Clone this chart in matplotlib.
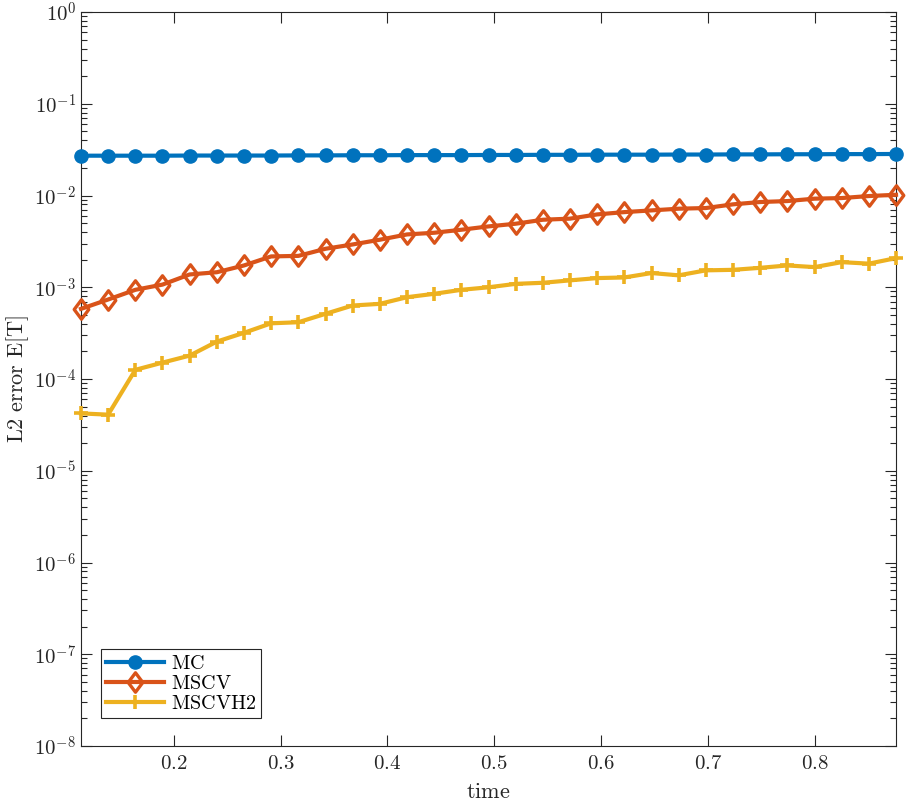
import numpy as np
import matplotlib
matplotlib.use("Agg")
import matplotlib.pyplot as plt
from matplotlib.path import Path
from matplotlib.ticker import LogLocator, FixedLocator, FuncFormatter, NullFormatter

plt.rcParams['mathtext.fontset'] = 'cm'
plt.rcParams['font.family'] = ['DejaVu Serif']

time = [0.1131, 0.1385, 0.1640, 0.1894, 0.2148, 0.2403, 0.2657, 0.2911, 0.3166, 0.3420,
        0.3674, 0.3929, 0.4183, 0.4437, 0.4692, 0.4946, 0.5200, 0.5455, 0.5709, 0.5963,
        0.6218, 0.6472, 0.6726, 0.6981, 0.7235, 0.7489, 0.7744, 0.7998, 0.8252, 0.8507,
        0.8761]

mc = [0.0272, 0.0272, 0.0272, 0.0272, 0.0273, 0.0273, 0.0273, 0.0273, 0.0274, 0.0274,
      0.0275, 0.0275, 0.0276, 0.0276, 0.0276, 0.0277, 0.0277, 0.0278, 0.0278, 0.0279,
      0.0279, 0.0279, 0.0280, 0.0280, 0.0281, 0.0281, 0.0282, 0.0282, 0.0283, 0.0283,
      0.0284]

mscv = [5.82e-4, 7.36e-4, 9.39e-4, 1.07e-3, 1.38e-3, 1.46e-3, 1.73e-3, 2.17e-3, 2.20e-3, 2.63e-3,
        2.93e-3, 3.30e-3, 3.77e-3, 3.93e-3, 4.24e-3, 4.61e-3, 4.93e-3, 5.45e-3, 5.60e-3, 6.23e-3,
        6.60e-3, 6.89e-3, 7.19e-3, 7.31e-3, 8.02e-3, 8.50e-3, 8.71e-3, 9.25e-3, 9.39e-3, 9.88e-3,
        1.02e-2]

mscvh2 = [4.22e-5, 4.09e-5, 1.26e-4, 1.51e-4, 1.80e-4, 2.56e-4, 3.19e-4, 4.05e-4, 4.16e-4, 5.14e-4,
          6.33e-4, 6.60e-4, 7.80e-4, 8.49e-4, 9.39e-4, 1.00e-3, 1.09e-3, 1.12e-3, 1.19e-3, 1.26e-3,
          1.28e-3, 1.43e-3, 1.35e-3, 1.53e-3, 1.55e-3, 1.63e-3, 1.73e-3, 1.66e-3, 1.88e-3, 1.81e-3,
          2.08e-3]

labels = ['MC', 'MSCV', 'MSCVH2']
colors = ['#0072BD', '#D95319', '#EDB120']
xticks = [0.2, 0.3, 0.4, 0.5, 0.6, 0.7, 0.8]

# MATLAB-like diamond (width 0.75 of height)
diamond = Path([(0, 1), (0.75, 0), (0, -1), (-0.75, 0), (0, 1)],
               [Path.MOVETO, Path.LINETO, Path.LINETO, Path.LINETO, Path.CLOSEPOLY])

fig = plt.figure(figsize=(9.07, 8.05), dpi=100)
ax = fig.add_axes([0.0893, 0.0733, 0.8986, 0.9117])

lw = 3.0
ax.plot(time, mc, '-', marker='o', color=colors[0], lw=lw, ms=9.5, mfc=colors[0], mec=colors[0],
        label=r'$\mathrm{%s}$' % labels[0], clip_on=False, zorder=3)
ax.plot(time, mscv, '-', marker=diamond, color=colors[1], lw=lw, ms=14, mfc='none', mec=colors[1], mew=2.4,
        label=r'$\mathrm{%s}$' % labels[1], clip_on=False, zorder=3)
ax.plot(time, mscvh2, '-', marker='+', color=colors[2], lw=lw, ms=10, mew=2.6,
        label=r'$\mathrm{%s}$' % labels[2], clip_on=False, zorder=3)

ax.set_yscale('log')
ax.set_xlim(time[0], time[-1])
ax.set_ylim(1e-8, 1)
ax.xaxis.set_major_locator(FixedLocator(xticks))
ax.xaxis.set_major_formatter(FuncFormatter(lambda v, p: r'$%.1f$' % v))
ax.yaxis.set_major_locator(LogLocator(base=10, numticks=20))
ax.yaxis.set_minor_locator(LogLocator(base=10, subs=np.arange(2, 10), numticks=20))
ax.yaxis.set_major_formatter(FuncFormatter(lambda v, p: r'$10^{%d}$' % int(round(np.log10(v)))))
ax.yaxis.set_minor_formatter(NullFormatter())
ax.xaxis.get_offset_text().set_visible(False)
ax.yaxis.get_offset_text().set_visible(False)

ax.tick_params(which='both', direction='in', top=True, right=True, labelsize=15, colors='#262626', width=0.8)
ax.tick_params(which='major', length=8)
ax.tick_params(which='minor', length=4.5)
ax.tick_params(axis='x', which='major', pad=6)
for s in ax.spines.values():
    s.set_color('#262626')
    s.set_linewidth(0.8)

ax.set_xlabel(r'$\mathrm{time}$', fontsize=16, color='#262626')
ax.xaxis.set_label_coords(0.5, -0.048)
ax.set_ylabel(r'$\mathrm{L2\ error\ E[T]}$', fontsize=16, color='#262626', labelpad=2)

leg = ax.legend(loc='lower left', bbox_to_anchor=(0.024, 0.038), fontsize=14.5, handlelength=2.9,
                fancybox=False, edgecolor='#262626', framealpha=1, borderpad=0.25,
                labelspacing=0.05, handletextpad=0.35, borderaxespad=0)
leg.get_frame().set_linewidth(0.8)

fig.savefig('out.png', dpi=100)
